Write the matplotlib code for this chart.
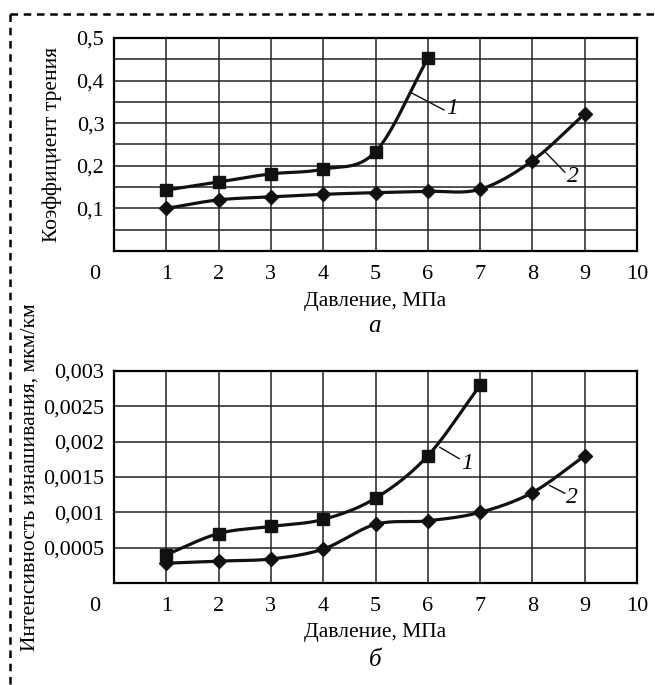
import numpy as np
import matplotlib
matplotlib.use('Agg')
import matplotlib.pyplot as plt
from matplotlib.lines import Line2D

plt.rcParams['font.family'] = ['Liberation Serif', 'DejaVu Serif']

# data
fr_x1 = [1, 2, 3, 4, 5, 6]
fr_y1 = [0.143, 0.162, 0.181, 0.192, 0.233, 0.452]
fr_x2 = [1, 2, 3, 4, 5, 6, 7, 8, 9]
fr_y2 = [0.100, 0.120, 0.127, 0.133, 0.137, 0.140, 0.145, 0.212, 0.322]

wr_x1 = [1, 2, 3, 4, 5, 6, 7]
wr_y1 = [0.0004, 0.0007, 0.0008, 0.0009, 0.0012, 0.0018, 0.0028]
wr_x2 = [1, 2, 3, 4, 5, 6, 7, 8, 9]
wr_y2 = [0.00028, 0.00031, 0.00034, 0.00048, 0.00083, 0.00088, 0.0010, 0.00128, 0.0018]

fr_ticks = [0.1, 0.2, 0.3, 0.4, 0.5]
fr_labels = ['0,1', '0,2', '0,3', '0,4', '0,5']
wr_ticks = [0.0005, 0.001, 0.0015, 0.002, 0.0025, 0.003]
wr_labels = ['0,0005', '0,001', '0,0015', '0,002', '0,0025', '0,003']

xlabel = 'Давление, МПа'
W, H = 655, 685
TICK_FS = 16


def smooth(x, y, n=30):
    # cubic hermite through the points, just for drawing the curve
    x = np.asarray(x, float)
    y = np.asarray(y, float)
    m = np.gradient(y, x)
    xs, ys = [], []
    for i in range(len(x) - 1):
        h = x[i + 1] - x[i]
        t = np.linspace(0, 1, n)
        h00 = 2 * t**3 - 3 * t**2 + 1
        h10 = t**3 - 2 * t**2 + t
        h01 = -2 * t**3 + 3 * t**2
        h11 = t**3 - t**2
        xs.append(x[i] + t * h)
        ys.append(h00 * y[i] + h10 * h * m[i] + h01 * y[i + 1] + h11 * h * m[i + 1])
    return np.concatenate(xs), np.concatenate(ys)


fig = plt.figure(figsize=(W / 100, H / 100), dpi=100)


def make_ax(top, bottom, ymax, ystep, ticks, labels, series, notes, ylab, ylab_x, cap):
    ax = fig.add_axes([114 / W, 1 - bottom / H, 523 / W, (bottom - top) / H])
    ax.set_xlim(0, 10)
    ax.set_ylim(0, ymax)
    ax.set_xticks(range(1, 11))
    ax.set_xticks(range(0, 11), minor=True)
    ax.set_yticks(ticks)
    ax.set_yticklabels(labels)
    ax.set_yticks(np.arange(0, ymax + ystep / 2, ystep), minor=True)
    ax.tick_params(which='both', length=0, labelsize=TICK_FS)
    ax.tick_params(axis='x', pad=10)
    ax.tick_params(axis='y', pad=7)
    ax.grid(which='both', color='#222222', lw=1.1)
    for s in ax.spines.values():
        s.set_linewidth(1.6)
    ax.annotate('0', xy=(-0.36, 0), xycoords=('data', 'axes fraction'),
                xytext=(0, -10), textcoords='offset points', ha='center', va='top',
                fontsize=TICK_FS, annotation_clip=False)
    for (x, y, mk, ms) in series:
        sx, sy = smooth(x, y)
        ax.plot(sx, sy, color='#111111', lw=2.3, zorder=3)
        ax.plot(x, y, ls='none', marker=mk, ms=ms, color='#111111', zorder=4)
    for (x0, y0, x1, y1, lx, ly, t) in notes:
        ax.plot([x0, x1], [y0, y1], color='#111111', lw=1.0, zorder=3)
        ax.text(lx, ly, t, fontsize=17, style='italic', ha='left', va='center')
    fig.text(ylab_x / W, 1 - (top + bottom) / 2 / H, ylab, rotation=90,
             ha='center', va='center', fontsize=15.5)
    fig.text(375 / W, 1 - cap[0] / H, xlabel, ha='center', va='center', fontsize=15.5)
    fig.text(375 / W, 1 - cap[1] / H, cap[2], ha='center', va='center',
             fontsize=18, style='italic')
    return ax


make_ax(38, 251, 0.5, 0.05, fr_ticks, fr_labels,
        [(fr_x1, fr_y1, 's', 8.5), (fr_x2, fr_y2, 'D', 7.5)],
        [(5.69, 0.371, 6.31, 0.331, 6.35, 0.334, '1'),
         (8.25, 0.232, 8.62, 0.185, 8.66, 0.174, '2')],
        'Коэффициент трения', 52, (301, 326, 'а'))

make_ax(371, 583, 0.003, 0.0005, wr_ticks, wr_labels,
        [(wr_x1, wr_y1, 's', 8.5), (wr_x2, wr_y2, 'D', 7.5)],
        [(6.23, 0.00192, 6.6, 0.00176, 6.63, 0.00169, '1'),
         (8.33, 0.00138, 8.62, 0.00127, 8.65, 0.00121, '2')],
        'Интенсивность изнашивания, мкм/км', 30, (633, 660, 'б'))

# dashed frame (top and left sides)
for xs, ys in [([10, W], [14, 14]), ([10, 10], [14, H])]:
    fig.add_artist(Line2D([x / W for x in xs], [1 - y / H for y in ys],
                          transform=fig.transFigure, color='black', lw=1.8,
                          dashes=(3, 2.3)))

fig.savefig('out.png', dpi=100)
